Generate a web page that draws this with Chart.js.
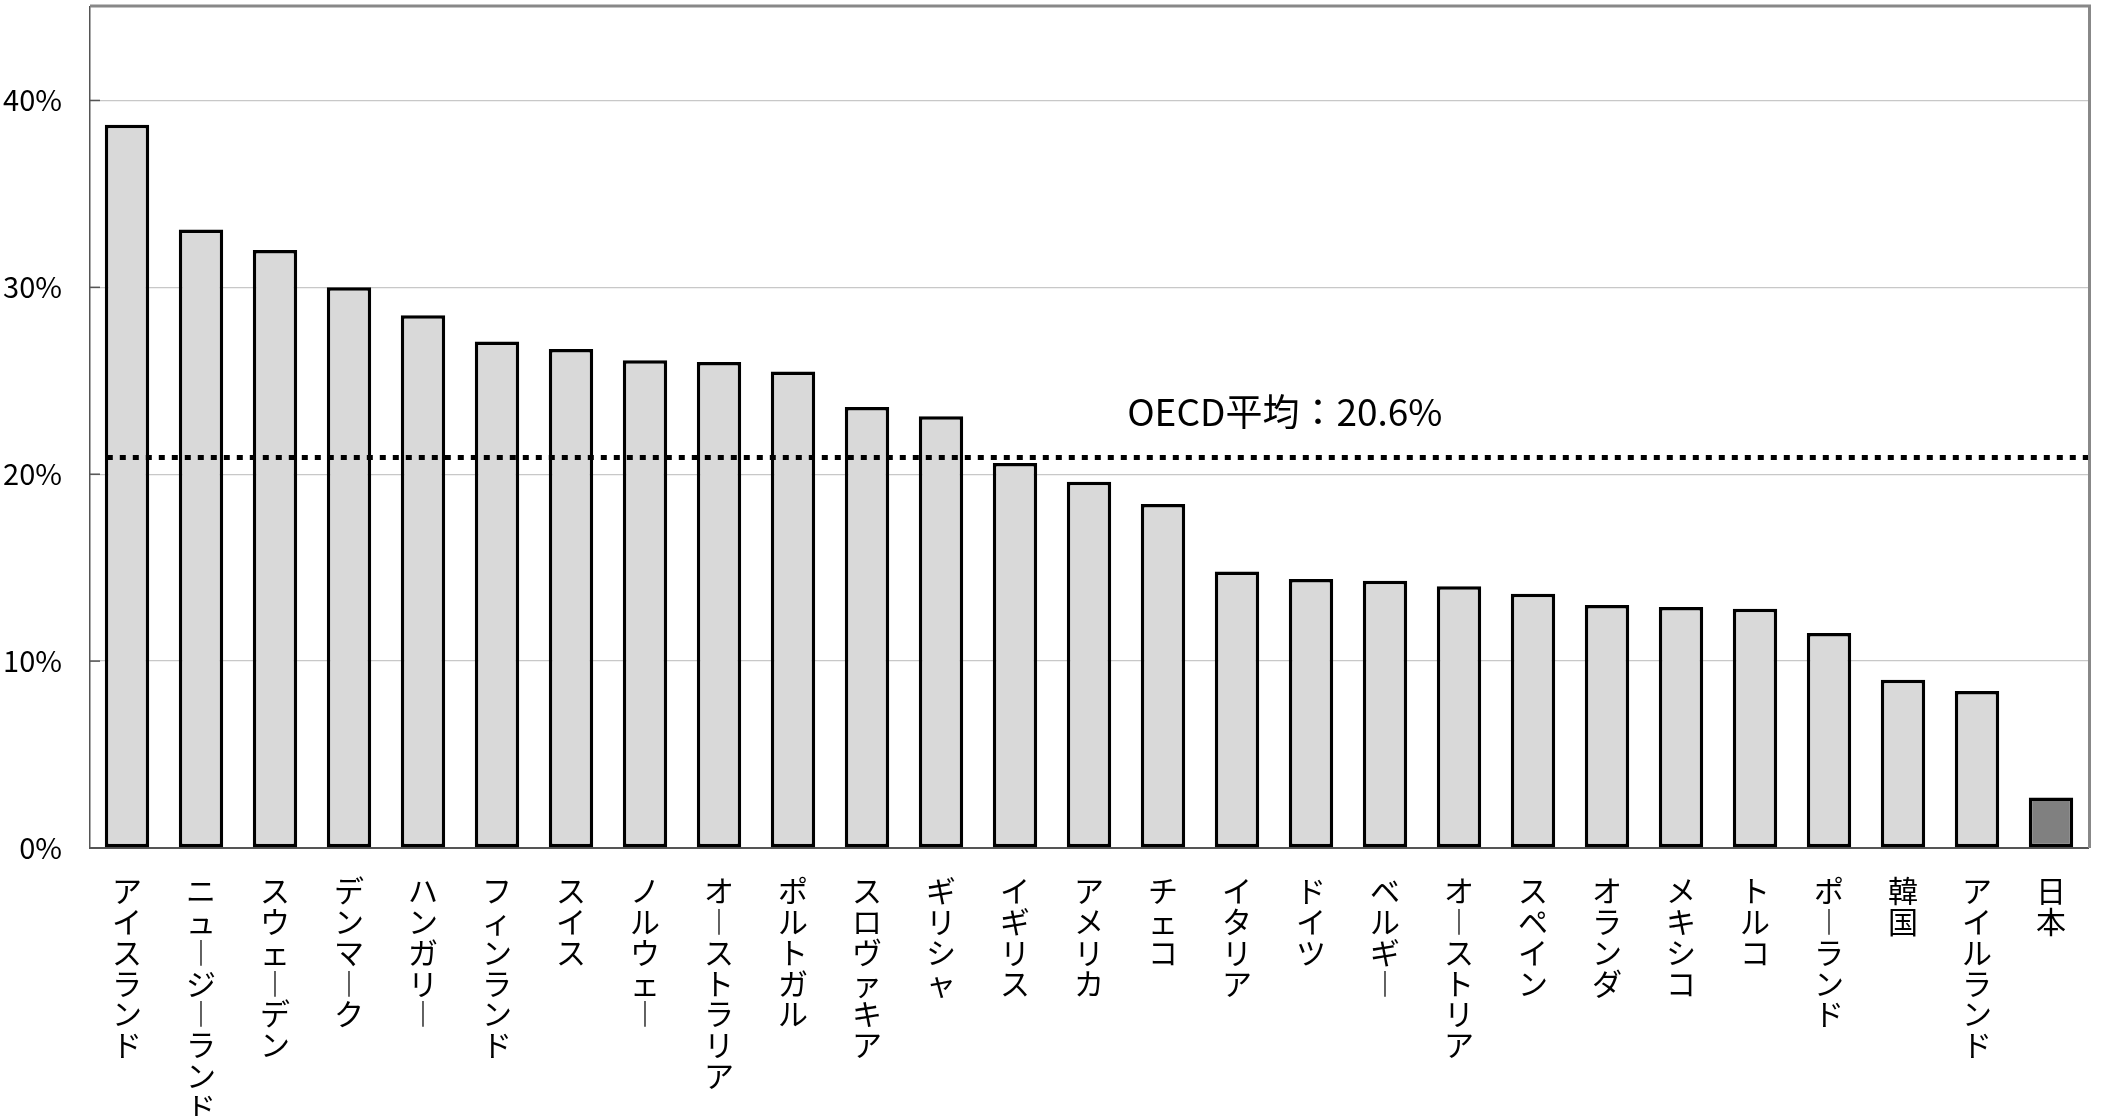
<!DOCTYPE html>
<html>
<head>
<meta charset="utf-8">
<script src="https://cdn.jsdelivr.net/npm/chart.js@4.4.0/dist/chart.umd.min.js"></script>
<style>
  html, body { margin: 0; padding: 0; background: #fff; }
</style>
</head>
<body>
<canvas id="rateChart" width="2116" height="1116"></canvas>
<script>
// 国名（左から順）
const countries = ['アイスランド', 'ニュージーランド', 'スウェーデン', 'デンマーク', 'ハンガリー', 'フィンランド', 'スイス', 'ノルウェー', 'オーストラリア', 'ポルトガル', 'スロヴァキア', 'ギリシャ', 'イギリス', 'アメリカ', 'チェコ', 'イタリア', 'ドイツ', 'ベルギー', 'オーストリア', 'スペイン', 'オランダ', 'メキシコ', 'トルコ', 'ポーランド', '韓国', 'アイルランド', '日本'];
// 値（%）
const rates = [38.7, 33.1, 32.0, 30.0, 28.5, 27.1, 26.7, 26.1, 26.0, 25.5, 23.6, 23.1, 20.6, 19.6, 18.4, 14.8, 14.4, 14.3, 14.0, 13.6, 13.0, 12.9, 12.8, 11.5, 9.0, 8.4, 2.7];
// 目盛り
const yTicks = [0, 10, 20, 30, 40];
const yMax = 45;
// OECD平均の点線
const oecdLine = 20.9;
const oecdLabel = 'OECD平均：20.6%';

const jpFont = '"Noto Sans CJK JP", "Noto Sans", sans-serif';
Chart.defaults.font.family = jpFont;
Chart.defaults.color = '#000';

// 点線・枠・内向き目盛り
const extras = {
    id: 'extras',
    afterDatasetsDraw(chart) {
        const ctx = chart.ctx;
        const area = chart.chartArea;
        const y = chart.scales.y;
        ctx.save();

        // 上と右の枠
        ctx.strokeStyle = '#888';
        ctx.lineWidth = 3;
        ctx.beginPath();
        ctx.moveTo(area.left, area.top - 1);
        ctx.lineTo(area.right + 1.5, area.top - 1);
        ctx.lineTo(area.right + 1.5, area.bottom);
        ctx.stroke();

        // 目盛り（内側）
        ctx.strokeStyle = '#555';
        ctx.lineWidth = 1.5;
        yTicks.forEach(v => {
            const py = y.getPixelForValue(v);
            ctx.beginPath();
            ctx.moveTo(area.left, py);
            ctx.lineTo(area.left + 10, py);
            ctx.stroke();
        });

        // OECD平均
        const bar0 = chart.getDatasetMeta(0).data[0];
        const ly = y.getPixelForValue(oecdLine);
        ctx.strokeStyle = '#000';
        ctx.lineWidth = 5;
        ctx.setLineDash([6, 7]);
        ctx.beginPath();
        ctx.moveTo(bar0.x - bar0.width / 2 + 2, ly);
        ctx.lineTo(area.right, ly);
        ctx.stroke();
        ctx.setLineDash([]);

        ctx.fillStyle = '#000';
        ctx.font = '37px ' + jpFont;
        ctx.textAlign = 'center';
        ctx.textBaseline = 'alphabetic';
        ctx.fillText(oecdLabel, area.left + 0.598 * (area.right - area.left), ly - 31);
        ctx.restore();
    }
};

new Chart(document.getElementById('rateChart'), {
    type: 'bar',
    data: {
        labels: countries,
        datasets: [{
            data: rates,
            backgroundColor: countries.map(c => c === '日本' ? '#808080' : '#d9d9d9'),
            borderColor: '#000',
            borderWidth: 3.5,
            borderSkipped: false,
            barPercentage: 0.6,
            categoryPercentage: 1.0
        }]
    },
    options: {
        responsive: false,
        animation: false,
        layout: { padding: { top: 7, right: 28, left: 0, bottom: 0 } },
        plugins: {
            legend: { display: false },
            tooltip: { enabled: false }
        },
        scales: {
            x: {
                grid: { display: false, drawTicks: false },
                border: { color: '#555', width: 2 },
                ticks: {
                    autoSkip: false,
                    maxRotation: 0,
                    minRotation: 0,
                    padding: 27,
                    font: { size: 30, lineHeight: 1.03 },
                    // 縦書き：1文字ずつ改行、長音は縦棒に
                    callback: function (val) {
                        return this.getLabelForValue(val).split('').map(ch => ch === 'ー' ? '︱' : ch);
                    }
                },
                afterFit(scale) {
                    scale.height = 268;
                    scale.paddingTop = 0;
                    scale.paddingBottom = 0;
                }
            },
            y: {
                min: 0,
                max: yMax,
                grid: { color: '#c8c8c8', lineWidth: 1.3, drawTicks: false },
                border: { color: '#555', width: 1.5 },
                ticks: {
                    padding: 28,
                    font: { size: 29 },
                    callback: v => v + '%'
                },
                afterBuildTicks(scale) { scale.ticks = yTicks.map(v => ({ value: v })); },
                afterFit(scale) {
                    scale.width = 90;
                    scale.paddingTop = 0;
                    scale.paddingBottom = 0;
                }
            }
        }
    },
    plugins: [extras]
});
</script>
</body>
</html>
